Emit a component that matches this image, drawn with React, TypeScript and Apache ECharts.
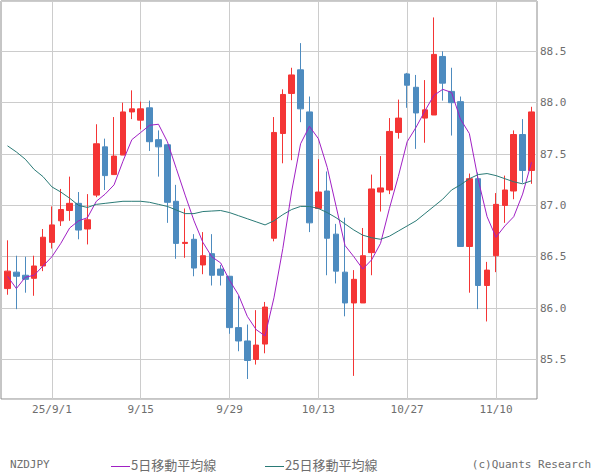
import React, { useEffect, useRef } from "react";
import * as echarts from "echarts";

// Trading days (weekdays) 2025-08-25 .. 2025-11-14
const dates = [
  "8/25", "8/26", "8/27", "8/28", "8/29",
  "9/1", "9/2", "9/3", "9/4", "9/5",
  "9/8", "9/9", "9/10", "9/11", "9/12",
  "9/15", "9/16", "9/17", "9/18", "9/19",
  "9/22", "9/23", "9/24", "9/25", "9/26",
  "9/29", "9/30", "10/1", "10/2", "10/3",
  "10/6", "10/7", "10/8", "10/9", "10/10",
  "10/13", "10/14", "10/15", "10/16", "10/17",
  "10/20", "10/21", "10/22", "10/23", "10/24",
  "10/27", "10/28", "10/29", "10/30", "10/31",
  "11/3", "11/4", "11/5", "11/6", "11/7",
  "11/10", "11/11", "11/12", "11/13", "11/14",
];

// x tick labels (category value -> shown label)
const tickDates = ["9/1", "9/15", "9/29", "10/13", "10/27", "11/10"];
const tickLabels = ["25/9/1", "9/15", "9/29", "10/13", "10/27", "11/10"];

const opens = [
  86.19, 86.35, 86.32, 86.29, 86.41, 86.64, 86.85, 86.95, 87.02, 86.77,
  87.10, 87.57, 87.30, 87.49, 87.91, 87.83, 87.95, 87.64, 87.59, 87.04,
  86.63, 86.67, 86.42, 86.53, 86.38, 86.31, 85.81, 85.68, 85.50, 85.65,
  86.68, 87.70, 88.09, 88.32, 87.91, 86.97, 87.14, 86.72, 86.35, 86.05,
  86.05, 86.54, 87.13, 87.15, 87.71, 88.28, 88.15, 87.85, 87.88, 88.45,
  88.11, 88.01, 86.60, 87.26, 86.22, 86.51, 87.00, 87.14, 87.69, 87.34,
];
const closes = [
  86.36, 86.31, 86.28, 86.41, 86.69, 86.81, 86.96, 87.02, 86.76, 86.86,
  87.60, 87.29, 87.48, 87.91, 87.94, 87.94, 87.62, 87.57, 87.03, 86.63,
  86.64, 86.39, 86.51, 86.32, 86.32, 85.81, 85.68, 85.49, 85.64, 86.01,
  87.71, 88.08, 88.27, 87.94, 86.83, 87.13, 86.68, 86.36, 86.05, 86.28,
  86.51, 87.16, 87.17, 87.72, 87.85, 88.17, 87.90, 87.93, 88.47, 88.19,
  88.00, 86.60, 87.26, 86.22, 86.37, 87.01, 87.15, 87.69, 87.34, 87.91,
];
const lows = [
  86.13, 85.99, 86.15, 86.12, 86.36, 86.58, 86.80, 86.85, 86.67, 86.62,
  87.08, 87.15, 87.30, 87.49, 87.84, 87.74, 87.53, 87.28, 86.83, 86.48,
  86.49, 86.31, 86.33, 86.22, 86.22, 85.75, 85.58, 85.31, 85.45, 85.56,
  86.65, 87.41, 87.44, 87.81, 86.74, 86.97, 86.32, 86.24, 85.92, 85.34,
  86.05, 86.32, 86.94, 87.11, 87.65, 87.95, 87.55, 87.61, 87.88, 88.02,
  87.68, 86.60, 86.15, 85.99, 85.87, 86.35, 86.83, 87.06, 87.22, 87.21,
];
const highs = [
  86.66, 86.51, 86.50, 86.51, 86.77, 86.99, 87.16, 87.28, 87.13, 87.11,
  87.79, 87.65, 87.86, 88.00, 88.12, 88.01, 88.02, 87.73, 87.59, 87.20,
  86.97, 86.72, 86.74, 86.72, 86.42, 86.31, 86.12, 85.84, 85.98, 86.06,
  87.86, 88.13, 88.34, 88.58, 88.06, 87.45, 87.33, 86.82, 86.88, 86.37,
  86.78, 87.30, 87.48, 87.85, 88.03, 88.29, 88.27, 88.22, 88.83, 88.50,
  88.34, 88.06, 87.31, 87.32, 86.45, 87.12, 87.29, 87.73, 87.84, 87.96,
];

const ma5 = [
  86.31, 86.19, 86.30, 86.32, 86.41, 86.50, 86.63, 86.78, 86.85, 86.88,
  87.04, 87.11, 87.20, 87.43, 87.64, 87.71, 87.78, 87.79, 87.62, 87.36,
  87.10, 86.85, 86.64, 86.50, 86.44, 86.27, 86.13, 85.92, 85.79, 85.73,
  86.10, 86.58, 87.14, 87.60, 87.77, 87.65, 87.37, 86.99, 86.61, 86.50,
  86.38, 86.47, 86.63, 86.97, 87.28, 87.62, 87.76, 87.92, 88.07, 88.13,
  88.10, 87.84, 87.70, 87.25, 86.89, 86.69, 86.80, 86.89, 87.11, 87.42,
];
const ma25 = [
  87.58, 87.52, 87.45, 87.35, 87.28, 87.18, 87.13, 87.07, 87.00, 86.98,
  87.01, 87.02, 87.03, 87.04, 87.04, 87.04, 87.03, 87.01, 86.99, 86.955,
  86.92, 86.92, 86.94, 86.945, 86.95, 86.93, 86.90, 86.87, 86.84, 86.81,
  86.85, 86.91, 86.96, 86.99, 86.99, 86.97, 86.93, 86.88, 86.82, 86.76,
  86.71, 86.685, 86.67, 86.70, 86.75, 86.80, 86.85, 86.92, 86.99, 87.06,
  87.15, 87.20, 87.26, 87.30, 87.31, 87.29, 87.26, 87.23, 87.21, 87.24,
];

const yMin = 85.115;
const yMax = 88.99;

const RED = "#f43535";
const BLUE = "#4d8bbf";
const PURPLE = "#a020c4";
const TEAL = "#2a7a76";
const GRID_LINE = "#cccccc";
const TEXT = "#6e6e6e";
const MONO = "'DejaVu Sans Mono', monospace";
const CJK = "'Noto Sans CJK JP', sans-serif";

export default function App() {
  const ref = useRef<HTMLDivElement>(null);

  useEffect(() => {
    if (!ref.current) return;
    const chart = echarts.init(ref.current, undefined, { renderer: "svg" });
    const candles = dates.map((_, i) => [opens[i], closes[i], lows[i], highs[i]]);
    const isTick = (i: number) => tickDates.indexOf(dates[i]) >= 0;

    chart.setOption({
      animation: false,
      backgroundColor: "#ffffff",
      grid: [
        {
          left: 1, top: 1, right: 63, bottom: 76,
          show: true, borderColor: "#8c8c8c", borderWidth: 1, backgroundColor: "#ffffff",
        },
        { left: 7.5, top: 1, right: 68.5, bottom: 76 },
      ],
      xAxis: [
        { gridIndex: 0, type: "value", show: false, min: 0, max: 1 },
        {
          gridIndex: 1,
          type: "category",
          data: dates,
          boundaryGap: false,
          axisLine: { show: false },
          axisTick: { show: false },
          axisLabel: {
            interval: (i: number) => isTick(i),
            formatter: (v: string) => {
              const k = tickDates.indexOf(v);
              return k >= 0 ? tickLabels[k] : "";
            },
            margin: 5,
            color: TEXT,
            fontFamily: MONO,
            fontSize: 11,
          },
          splitLine: {
            show: true,
            interval: (i: number) => isTick(i),
            lineStyle: { color: GRID_LINE, width: 1 },
          },
        },
      ],
      yAxis: [
        {
          gridIndex: 0,
          type: "value",
          position: "right",
          min: yMin,
          max: yMax,
          splitNumber: 8,
          axisLine: { show: false },
          axisTick: { show: false },
          axisLabel: {
            showMinLabel: false,
            showMaxLabel: false,
            margin: 3,
            color: TEXT,
            fontFamily: MONO,
            fontSize: 11,
            formatter: (v: number) => v.toFixed(1),
          },
          splitLine: { show: true, lineStyle: { color: GRID_LINE, width: 1 } },
        },
        { gridIndex: 1, type: "value", min: yMin, max: yMax, show: false },
      ],
      series: [
        {
          type: "candlestick",
          xAxisIndex: 1,
          yAxisIndex: 1,
          data: candles,
          barWidth: 6,
          clip: false,
          itemStyle: {
            color: RED,
            color0: BLUE,
            borderColor: RED,
            borderColor0: BLUE,
            borderWidth: 1,
          },
        },
        {
          name: "5日移動平均線",
          type: "line",
          xAxisIndex: 1,
          yAxisIndex: 1,
          data: ma5,
          symbol: "none",
          lineStyle: { color: PURPLE, width: 1 },
        },
        {
          name: "25日移動平均線",
          type: "line",
          xAxisIndex: 1,
          yAxisIndex: 1,
          data: ma25,
          symbol: "none",
          lineStyle: { color: TEAL, width: 1 },
        },
      ],
      graphic: [
        {
          type: "text", left: 10, top: 459,
          style: { text: "NZDJPY", fill: TEXT, font: `11px ${MONO}` },
        },
        {
          type: "line", shape: { x1: 111, y1: 466.5, x2: 130, y2: 466.5 },
          style: { stroke: PURPLE, lineWidth: 1 },
        },
        {
          type: "text", left: 131, top: 458,
          style: { text: "5日移動平均線", fill: TEXT, font: `13px ${CJK}` },
        },
        {
          type: "line", shape: { x1: 265, y1: 466.5, x2: 284, y2: 466.5 },
          style: { stroke: TEAL, lineWidth: 1 },
        },
        {
          type: "text", left: 285, top: 458,
          style: { text: "25日移動平均線", fill: TEXT, font: `13px ${CJK}` },
        },
        {
          type: "text", right: 9, top: 459,
          style: { text: "(c)Quants Research", fill: TEXT, font: `11px ${MONO}` },
        },
      ],
    });

    return () => chart.dispose();
  }, []);

  return (
    <div
      ref={ref}
      style={{ position: "fixed", left: 0, top: 0, width: 600, height: 475, background: "#fff" }}
    />
  );
}
